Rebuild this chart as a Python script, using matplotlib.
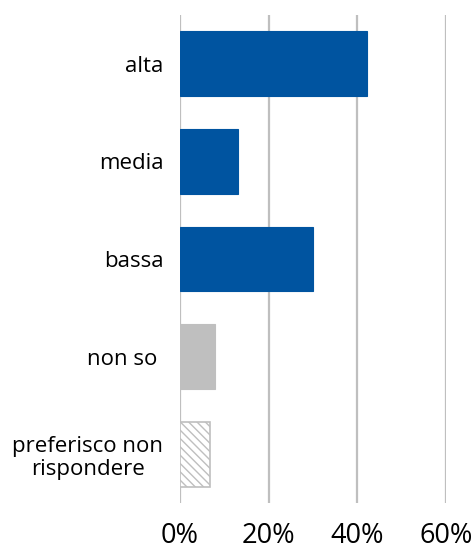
import numpy as np
import matplotlib
matplotlib.use("Agg")
import matplotlib.pyplot as plt
from matplotlib.ticker import PercentFormatter

# ---- data ----
categories = ["alta", "media", "bassa", "non so ", "preferisco non\nrispondere"]
values = [42.1, 13.0, 30.0, 8.0, 6.8]
bar_colors = ["#0054A0", "#0054A0", "#0054A0", "#BFBFBF", "white"]
bar_hatches = [None, None, None, None, "\\\\\\\\"]
x_ticks = [0, 20, 40, 60]

plt.rcParams["font.family"] = ["Open Sans", "DejaVu Sans"]
plt.rcParams["hatch.color"] = "#BFBFBF"
plt.rcParams["hatch.linewidth"] = 1.0

fig = plt.figure(figsize=(4.77, 5.54), dpi=100)
ax = fig.add_axes([0.3774, 0.0921, 0.5578, 0.8808])

y = np.arange(len(categories))
for yi, v, c, h in zip(y, values, bar_colors, bar_hatches):
    if h is None:
        ax.barh(yi, v, height=0.665, color=c, edgecolor=c, linewidth=0.8, zorder=3)
    else:
        ax.barh(yi, v, height=0.665, color=c, hatch=h, edgecolor="#BFBFBF",
                linewidth=1.2, zorder=3)

ax.set_xlim(0, 60)
ax.set_ylim(len(categories) - 0.5, -0.5)
ax.set_xticks(x_ticks)
ax.xaxis.set_major_formatter(PercentFormatter(decimals=0))
ax.set_yticks(y)
ax.set_yticklabels(categories, multialignment="center", linespacing=1.15)

ax.grid(axis="x", color="#BFBFBF", linewidth=1.6, zorder=0)
for s in ax.spines.values():
    s.set_visible(False)
ax.tick_params(axis="x", length=0, pad=14, labelsize=19.5, colors="black")
ax.tick_params(axis="y", length=0, pad=12, labelsize=16, colors="black")

fig.savefig("out.png", dpi=100)
